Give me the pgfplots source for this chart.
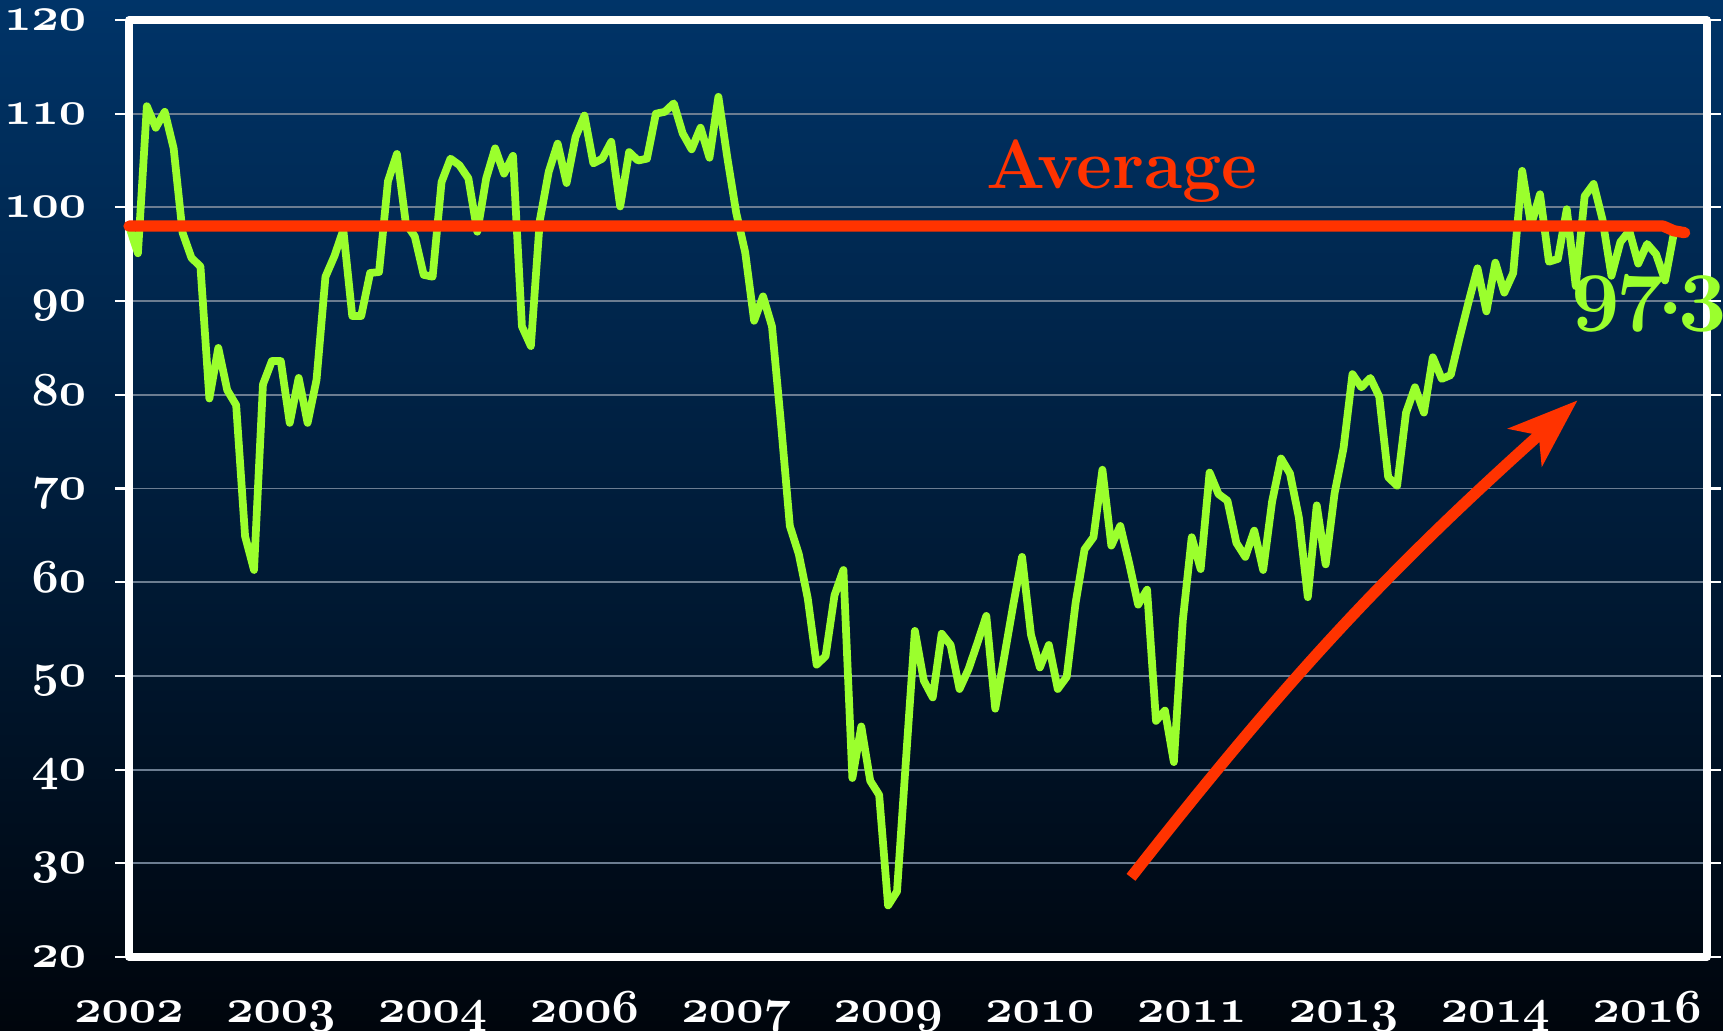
\RequirePackage{fix-cm}
\documentclass[border=0pt]{standalone}
\usepackage{pgfplots}
\pgfplotsset{compat=1.18}
\usetikzlibrary{arrows.meta}
\newcommand{\osn}[1]{{\usefont{OML}{cmm}{b}{it}#1}}
\definecolor{bgtop}{RGB}{0,52,104}
\definecolor{bgbot}{RGB}{0,5,12}
\definecolor{mygreen}{RGB}{155,255,45}
\definecolor{avgred}{RGB}{255,51,0}
\definecolor{gridc}{RGB}{108,125,145}
\begin{document}
\begin{tikzpicture}[x=1cm,y=1cm]
\useasboundingbox (0,0) rectangle (17.23,10.31);
\shade[top color=bgtop, bottom color=bgbot] (0,0) rectangle (17.23,10.31);
\begin{axis}[
  at={(1.29cm,0.74cm)}, anchor=south west,
  width=15.78cm, height=9.37cm, scale only axis,
  xmin=0, xmax=176.7, ymin=20, ymax=120,
  clip=false,
  axis line style={white, line width=2.1pt, line join=round},
  ytick={20,30,...,120},
  yticklabels={\osn{20},\osn{30},\osn{40},\osn{50},\osn{60},\osn{70},\osn{80},\osn{90},\osn{100},\osn{110},\osn{120}},
  xtick={0,17,34,51,68,85,102,119,136,153,170},
  xticklabels={\osn{2002},\osn{2003},\osn{2004},\osn{2006},\osn{2007},\osn{2009},\osn{2010},\osn{2011},\osn{2013},\osn{2014},\osn{2016}},
  ymajorgrids, grid style={gridc, line width=0.55pt},
  tick align=outside,
  major tick length=4pt,
  ytick style={white, line width=0.6pt},
  xtick style={draw=none},
  ticklabel style={font=\fontsize{13.5}{16}\selectfont, text=white},
  yticklabel style={inner sep=1pt, xshift=-7pt, text height=6pt, text depth=0pt},
  xticklabel style={yshift=-5pt, text height=6pt, text depth=2.6pt},
]
\addplot[mygreen, line width=2.2pt, line join=round, line cap=round] table[x expr=\coordindex, y index=0, header=false] {
98.0
95.1
110.8
108.5
110.2
106.3
97.3
94.6
93.7
79.6
85.0
80.5
78.9
64.9
61.3
81.1
83.6
83.6
77.0
81.8
77.0
81.6
92.6
94.8
97.6
88.4
88.4
93.0
93.1
102.8
105.7
98.3
96.9
92.8
92.6
102.7
105.2
104.5
103.1
97.4
103.1
106.3
103.6
105.5
87.3
85.2
98.6
103.8
106.8
102.6
107.5
109.8
104.7
105.2
107.0
100.1
105.9
105.0
105.2
110.0
110.2
111.1
107.9
106.2
108.5
105.3
111.8
105.3
99.4
95.2
87.9
90.5
87.3
77.0
66.0
63.0
58.3
51.2
52.1
58.6
61.3
39.1
44.6
38.8
37.3
25.5
27.0
41.0
54.8
49.5
47.7
54.5
53.3
48.6
50.7
53.5
56.4
46.5
52.0
57.5
62.7
54.4
50.9
53.3
48.6
49.9
57.8
63.5
64.8
72.0
63.9
66.0
62.0
57.6
59.2
45.2
46.3
40.8
55.9
64.8
61.4
71.7
69.4
68.7
64.2
62.7
65.5
61.3
68.6
73.2
71.6
66.9
58.4
68.2
61.9
69.5
74.3
82.2
80.8
81.8
79.8
71.2
70.3
78.1
80.8
78.1
84.0
81.7
82.1
86.1
89.9
93.5
88.9
94.1
90.9
93.0
103.9
98.1
101.4
94.2
94.5
99.8
91.6
101.2
102.5
98.7
92.7
96.3
97.5
94.0
96.1
95.0
92.2
97.3
};
\addplot[avgred, line width=3.2pt, line cap=round, line join=round] coordinates {(0,98) (171.8,98) (173,97.5) (174.2,97.3)};
\draw[avgred, line width=3.2pt, -{Stealth[length=7mm, width=5mm, inset=1.8mm]}] (axis cs:112.2,28.5) to[bend left=5] (axis cs:162.2,79.4);
\end{axis}
\node[anchor=base west, text=avgred, font=\bfseries\fontsize{19.8}{22}\selectfont, inner sep=0pt] at (9.86,8.42) {Average};
\node[anchor=base west, text=mygreen, font=\bfseries\fontsize{24}{26}\selectfont, inner sep=0pt] at (15.71,7.165) {\osn{9}\kern-1.2pt\osn{7}\kern-2pt.\kern-1.5pt\osn{3}};
\end{tikzpicture}
\end{document}
